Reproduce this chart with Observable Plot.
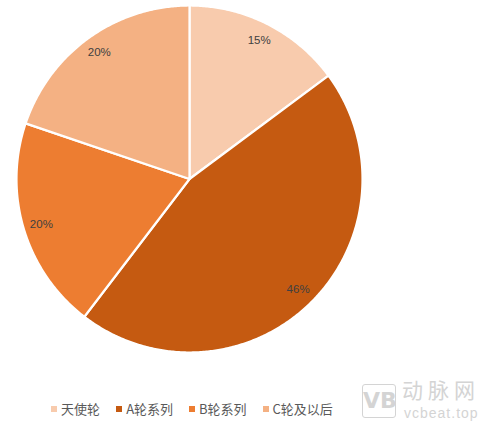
<!DOCTYPE html>
<html>
<head>
<meta charset="utf-8">
<script src="https://cdn.jsdelivr.net/npm/d3@7"></script>
<script src="https://cdn.jsdelivr.net/npm/@observablehq/plot@0.6"></script>
<style>
  html, body { margin: 0; padding: 0; background: #fff; }
  #wrap { position: relative; width: 486px; height: 424px; overflow: hidden;
          font-family: "Noto Sans CJK SC", "Noto Sans", sans-serif; }
  #legend { position: absolute; left: 0; top: 399px; width: 384px; display: flex;
            justify-content: center; gap: 16px; font-size: 13px; color: #595959; line-height: 20px; }
  #legend .item { display: flex; align-items: center; }
  #legend .sw { width: 6px; height: 6px; margin-right: 4px; }
  .wm { position: absolute; color: #d4d4d4; white-space: nowrap; }
  .wm.vb { left: 362px; top: 384px; width: 32px; height: 32px; border: 1.5px solid #d4d4d4;
           border-radius: 3px; font: bold 22px/32px "DejaVu Sans", sans-serif; text-align: center; }
  .wm.cn { left: 402px; top: 374px; font-size: 21px; line-height: normal; letter-spacing: 5px; }
  .wm.en { left: 404px; top: 405px; font: 14px "Liberation Sans", sans-serif; line-height: normal; letter-spacing: 1px; }
</style>
</head>
<body>
<div id="wrap">
  <div id="chart"></div>
  <div id="legend"></div>
  <div class="wm vb">VB</div><div class="wm cn">动脉网</div><div class="wm en">vcbeat.top</div>
</div>
<script>
// Funding round shares
const categories = ["天使轮", "A轮系列", "B轮系列", "C轮及以后"];
const shares = [15, 46, 20, 20];
const colors = ["#F8CBAD", "#C55A11", "#ED7D31", "#F4B183"];

// Pie layout: clockwise from 12 o'clock, in unit-circle data coordinates
const arcs = d3.pie().sort(null).value(d => d.share)(
  categories.map((c, i) => ({category: c, share: shares[i]}))
);

// Each slice as a closed polygon: centre, then points along the outer arc
const slicePoints = arcs.flatMap(a => {
  const n = Math.max(2, Math.ceil((a.endAngle - a.startAngle) / (Math.PI / 360)));
  const pts = [{category: a.data.category, x: 0, y: 0}];
  for (let k = 0; k <= n; k++) {
    const t = a.startAngle + (a.endAngle - a.startAngle) * k / n;
    pts.push({category: a.data.category, x: Math.sin(t), y: Math.cos(t)});
  }
  return pts;
});

// Percentage labels near the rim of each slice
const labelRadius = 0.895;
const labelData = arcs.map(a => {
  const m = (a.startAngle + a.endAngle) / 2;
  return {x: labelRadius * Math.sin(m), y: labelRadius * Math.cos(m), text: `${a.data.share}%`};
});

const chart = Plot.plot({
  width: 486,
  height: 396,
  marginLeft: 16,
  marginRight: 124,
  marginTop: 5,
  marginBottom: 44,
  x: {domain: [-1, 1], axis: null},
  y: {domain: [-1, 1], axis: null},
  color: {domain: categories, range: colors},
  style: {fontFamily: "'Liberation Sans', 'Noto Sans', sans-serif"},
  marks: [
    Plot.line(slicePoints, {
      x: "x", y: "y", z: "category", fill: "category",
      stroke: "white", strokeWidth: 2.2, strokeLinejoin: "round", curve: "linear-closed"
    }),
    Plot.text(labelData, {x: "x", y: "y", text: "text", fill: "#404040", fontSize: 11.5})
  ]
});
document.getElementById("chart").appendChild(chart);

// Legend
const legend = document.getElementById("legend");
categories.forEach((c, i) => {
  const item = document.createElement("div");
  item.className = "item";
  const sw = document.createElement("span");
  sw.className = "sw";
  sw.style.background = colors[i];
  const label = document.createElement("span");
  label.textContent = c;
  item.append(sw, label);
  legend.appendChild(item);
});
</script>
</body>
</html>
